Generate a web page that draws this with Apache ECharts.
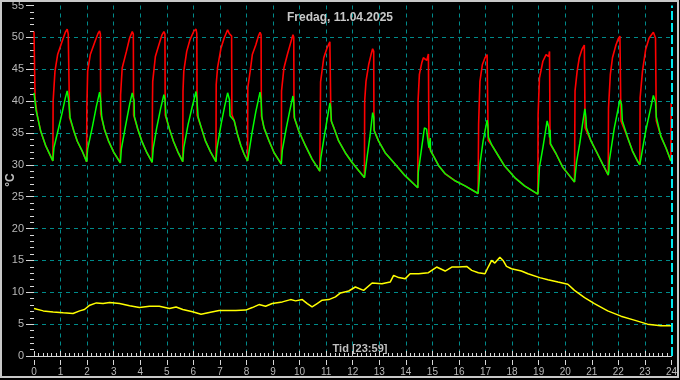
<!DOCTYPE html>
<html><head><meta charset="utf-8">
<script src="https://cdn.jsdelivr.net/npm/echarts@6/dist/echarts.min.js"></script>
<style>html,body{margin:0;padding:0;background:#000;}#c{width:680px;height:380px;}</style>
</head><body><div id="c"></div>
<script>
const titleText = 'Fredag, 11.04.2025';
const xName = 'Tid [23:59]';
const yName = '°C';
const nowHour = 24;

// red (hour, °C) - start segment, rising parts of each cycle, end
const redHead = [[0,50.9],[0.03,50.6],[0.04,40.5]];
const greenHead = [[0,41.3],[0.06,41.0],[0.08,38.5]];
const redTail = [[23.99,39.7]];

// shared cooling segments (red and green overlap)
const decays = [
 [[0.12,37.8],[0.25,35.3],[0.44,33.0],[0.62,31.4],[0.71,30.6]],
 [[1.5,35.3],[1.63,33.7],[1.81,32.2],[1.98,30.5]],
 [[2.65,35.6],[2.8,33.8],[3.0,32.0],[3.25,30.3]],
 [[3.9,35.7],[4.05,33.8],[4.25,31.9],[4.45,30.4]],
 [[5.1,35.6],[5.25,33.7],[5.42,32.0],[5.6,30.5]],
 [[6.3,35.8],[6.45,33.8],[6.65,32.0],[6.85,30.5]],
 [[7.54,36.9],[7.66,34.8],[7.79,33.0],[7.91,31.7],[8.04,30.6]],
 [[8.66,35.8],[8.85,33.75],[9.04,31.9],[9.31,30.1]],
 [[9.97,35.3],[10.22,33.0],[10.47,30.9],[10.76,29.0]],
 [[11.29,35.8],[11.47,33.75],[11.72,31.9],[11.97,30.4],[12.22,29.1],[12.44,28.0]],
 [[12.97,33.75],[13.22,31.9],[13.6,30.1],[13.97,28.3],[14.45,26.4]],
 [[15.04,31.4],[15.23,29.9],[15.48,28.6],[15.85,27.5],[16.23,26.7],[16.72,25.5]],
 [[17.25,33.0],[17.47,31.5],[17.72,29.8],[18.1,28.0],[18.47,26.7],[18.97,25.4]],
 [[19.66,31.7],[19.91,29.6],[20.16,28.3],[20.35,27.3]],
 [[20.97,33.75],[21.22,31.7],[21.41,30.1],[21.62,28.4]],
 [[22.35,34.3],[22.53,32.2],[22.72,30.6],[22.81,30.0]],
 [[23.6,34.5],[23.8,32.6],[23.98,30.6]]
];

const redRises = [
 [[0.72,40.0],[0.79,44.7],[0.89,47.3],[1.06,49.4],[1.18,50.8],[1.25,51.3],[1.29,50.5],[1.33,50.2],[1.34,37.4]],
 [[1.99,39.0],[2.02,44.7],[2.12,47.3],[2.3,49.4],[2.41,50.6],[2.47,51.0],[2.5,50.5],[2.51,38.0]],
 [[3.26,41.0],[3.32,45.2],[3.48,47.8],[3.6,49.9],[3.7,50.9],[3.74,50.5],[3.75,37.8]],
 [[4.46,40.0],[4.47,43.1],[4.57,47.0],[4.7,48.8],[4.82,50.4],[4.89,50.9],[4.93,50.5],[4.94,37.8]],
 [[5.61,41.6],[5.64,44.7],[5.75,47.8],[5.87,49.6],[6.02,51.0],[6.1,51.3],[6.13,50.6],[6.14,37.8]],
 [[6.86,42.6],[6.91,45.2],[7.04,48.3],[7.16,49.9],[7.29,51.2],[7.35,50.6],[7.44,50.2],[7.45,37.9]],
 [[8.05,42.1],[8.14,44.7],[8.22,47.3],[8.35,48.8],[8.45,50.2],[8.51,50.8],[8.55,50.4],[8.56,37.7]],
 [[9.32,41.6],[9.41,45.2],[9.54,47.3],[9.66,49.1],[9.75,50.4],[9.78,50.0],[9.79,37.5]],
 [[10.79,43.0],[10.91,46.8],[11.03,48.3],[11.14,49.3],[11.17,49.0],[11.18,37.0]],
 [[12.45,40.0],[12.5,43.1],[12.6,45.7],[12.69,47.3],[12.75,48.2],[12.79,47.8],[12.8,35.5]],
 [[14.46,40.0],[14.51,44.2],[14.6,46.0],[14.66,46.8],[14.73,46.8],[14.79,46.4],[14.85,47.4],[14.87,32.8]],
 [[16.74,36.4],[16.79,43.1],[16.88,45.7],[16.98,46.8],[17.06,47.3],[17.09,47.0],[17.1,33.8]],
 [[18.98,37.9],[19.03,43.6],[19.16,46.25],[19.28,47.3],[19.35,47.6],[19.38,47.0],[19.41,47.8],[19.43,33.3]],
 [[20.37,41.6],[20.45,44.7],[20.53,46.8],[20.63,48.1],[20.72,48.8],[20.74,48.5],[20.75,35.8]],
 [[21.63,38.9],[21.7,44.2],[21.78,46.8],[21.91,48.8],[22.0,49.8],[22.06,50.2],[22.09,49.9],[22.1,36.9]],
 [[22.82,40.5],[22.91,44.7],[23.03,48.1],[23.16,49.9],[23.32,50.8],[23.4,49.9],[23.43,36.9]]
];

const greenRises = [
 [[0.73,30.8],[0.75,32.7],[0.9,35.3],[1.05,38.0],[1.18,40.5],[1.25,41.6],[1.3,40.3],[1.35,40.0],[1.36,37.4]],
 [[2.0,30.7],[2.02,32.5],[2.2,36.0],[2.35,39.2],[2.47,41.4],[2.5,40.5],[2.54,40.2],[2.55,37.5]],
 [[3.27,30.6],[3.29,32.5],[3.45,36.2],[3.6,39.5],[3.7,41.3],[3.74,40.5],[3.77,40.1],[3.78,37.6]],
 [[4.47,30.6],[4.49,32.6],[4.62,35.8],[4.77,38.9],[4.89,41.0],[4.93,40.3],[4.96,40.0],[4.97,37.6]],
 [[5.62,30.8],[5.64,32.7],[5.8,36.3],[5.95,39.0],[6.1,41.5],[6.13,40.4],[6.17,40.1],[6.18,37.5]],
 [[6.87,30.7],[6.89,32.6],[7.05,36.5],[7.18,39.2],[7.29,41.3],[7.36,40.2],[7.38,37.7]],
 [[8.06,31.1],[8.2,34.8],[8.35,38.3],[8.51,41.4],[8.55,40.2],[8.58,37.5]],
 [[9.33,30.3],[9.35,32.3],[9.5,35.8],[9.63,38.5],[9.75,40.8],[9.78,39.8],[9.81,37.3]],
 [[10.8,31.1],[10.95,35.0],[11.14,39.7],[11.17,39.0],[11.2,36.8]],
 [[12.46,28.5],[12.55,31.5],[12.65,34.5],[12.75,38.2],[12.79,37.5],[12.81,35.3]],
 [[14.47,28.9],[14.6,32.8],[14.7,35.8],[14.78,35.6],[14.84,33.5],[14.87,32.7],[14.92,34.2],[14.93,32.2]],
 [[16.76,27.5],[16.79,30.1],[16.91,33.75],[17.06,37.0],[17.09,36.0],[17.11,34.3]],
 [[18.99,26.5],[19.03,29.6],[19.16,32.7],[19.32,36.9],[19.38,35.9],[19.41,34.3],[19.43,35.5],[19.45,33.3]],
 [[20.38,28.5],[20.43,30.5],[20.55,33.4],[20.65,36.3],[20.74,38.8],[20.78,37.5],[20.8,35.8]],
 [[21.64,28.8],[21.66,30.6],[21.85,35.8],[22.06,40.2],[22.12,39.5],[22.15,36.9]],
 [[22.83,30.5],[23.03,35.3],[23.32,40.9],[23.4,39.8],[23.43,37.5]]
];

const outdoorTemp = [[0,7.45],[0.35,7.08],[0.72,6.9],[1.1,6.77],[1.47,6.67],[1.72,7.08],[1.9,7.3],[2.1,7.97],[2.35,8.33],[2.6,8.23],[2.85,8.39],[3.22,8.23],[3.6,7.87],[3.97,7.6],[4.35,7.8],[4.72,7.8],[5.1,7.45],[5.35,7.7],[5.6,7.3],[5.97,6.93],[6.29,6.56],[6.6,6.83],[6.97,7.14],[7.6,7.14],[7.97,7.2],[8.22,7.6],[8.47,8.07],[8.72,7.8],[8.97,8.23],[9.35,8.49],[9.66,8.85],[9.85,8.65],[10.1,8.85],[10.29,8.23],[10.47,7.7],[10.66,8.23],[10.85,8.75],[11.1,8.85],[11.35,9.27],[11.54,9.9],[11.85,10.2],[12.1,10.83],[12.41,10.3],[12.73,11.46],[13.1,11.35],[13.41,11.6],[13.54,12.66],[13.73,12.3],[13.98,12.14],[14.16,12.9],[14.48,12.9],[14.85,13.07],[15.16,13.96],[15.48,13.33],[15.73,13.96],[15.98,13.96],[16.29,14.06],[16.48,13.44],[16.73,13.07],[16.98,12.9],[17.1,13.96],[17.23,15.0],[17.35,14.58],[17.54,15.5],[17.66,15.0],[17.79,14.06],[17.98,13.7],[18.35,13.33],[18.6,12.9],[19.04,12.3],[19.35,11.98],[19.73,11.6],[20.1,11.25],[20.35,10.3],[20.73,9.17],[21.1,8.23],[21.6,7.08],[22.1,6.25],[22.6,5.63],[23.1,5.0],[23.6,4.74],[23.98,4.74]];

const xTicks = {min:0, max:24, interval:1};
const yTicks = {min:0, max:55, interval:5};

// build series data
let redData = redHead.slice();
let greenData = greenHead.slice();
for (let i = 0; i < decays.length; i++) {
  redData = redData.concat(decays[i]);
  greenData = greenData.concat(decays[i]);
  if (i < redRises.length) {
    redData = redData.concat(redRises[i]);
    greenData = greenData.concat(greenRises[i]);
  }
}
redData = redData.concat(redTail);

const gridColor = '#008a8a';
const tickColor = '#d8d8d8';
const labelColor = '#b8b8b8';
const font = 'Arial, "Liberation Sans", sans-serif';

const chart = echarts.init(document.getElementById('c'), null, {renderer:'canvas'});
chart.setOption({
  backgroundColor: '#000',
  animation: false,
  grid: {left:34, right:6, top:4, bottom:24, containLabel:false},
  xAxis: [{
    type:'value', min:xTicks.min, max:xTicks.max, interval:xTicks.interval, offset:4,
    axisLine:{show:true, lineStyle:{color:tickColor, width:1}},
    axisTick:{show:true, inside:true, length:5, lineStyle:{color:tickColor}},
    minorTick:{show:true, splitNumber:6, length:3, lineStyle:{color:tickColor}},
    axisLabel:{color:labelColor, fontSize:10, margin:7, fontFamily:font},
    splitLine:{show:true, showMinLine:false, showMaxLine:false, lineStyle:{color:gridColor, type:[4,4], width:1}}
  },{
    type:'value', position:'bottom', min:xTicks.min, max:xTicks.max, interval:xTicks.interval, offset:4,
    axisLine:{show:false},
    axisTick:{show:true, inside:false, length:5, lineStyle:{color:tickColor}},
    axisLabel:{show:false},
    splitLine:{show:false}
  }],
  yAxis: {
    type:'value', min:yTicks.min, max:yTicks.max, interval:yTicks.interval,
    axisLine:{show:false},
    axisTick:{show:true, length:8, lineStyle:{color:tickColor}},
    minorTick:{show:true, splitNumber:5, length:4, lineStyle:{color:tickColor}},
    axisLabel:{color:labelColor, fontSize:11, margin:10, fontFamily:font},
    splitLine:{show:true, showMinLine:false, showMaxLine:false, lineStyle:{color:gridColor, type:[4,4], width:1}}
  },
  series: [
    {type:'line', name:'red', data:redData, showSymbol:false, symbol:'none', lineStyle:{color:'#ff0000', width:1.6}, z:2,
     markLine:{silent:true, symbol:['none','none'], label:{show:false}, lineStyle:{color:'#00e8f0', type:[9,3], width:2}, data:[{xAxis:nowHour}]}},
    {type:'line', name:'green', data:greenData, showSymbol:false, symbol:'none', lineStyle:{color:'#00ff00', width:1.5}, z:3},
    {type:'line', name:'outdoor', data:outdoorTemp, showSymbol:false, symbol:'none', lineStyle:{color:'#ffff00', width:1.5}, z:3}
  ],
  graphic: [
    {type:'rect', shape:{x:1, y:1, width:677, height:376}, style:{fill:'none', stroke:'#c8c8c8', lineWidth:2}, silent:true, z:10},
    {type:'text', x:340, y:18, style:{text:titleText, fill:'#c8c8c8', font:'bold 12px ' + font, textAlign:'center', textVerticalAlign:'middle'}},
    {type:'text', x:360, y:349, style:{text:xName, fill:'#c0c0c0', font:'bold 11px ' + font, textAlign:'center', textVerticalAlign:'middle'}},
    {type:'text', x:11, y:180, rotation:Math.PI/2, style:{text:yName, fill:'#c0c0c0', font:'bold 12px ' + font, textAlign:'center', textVerticalAlign:'middle'}}
  ]
});
</script>
</body></html>
